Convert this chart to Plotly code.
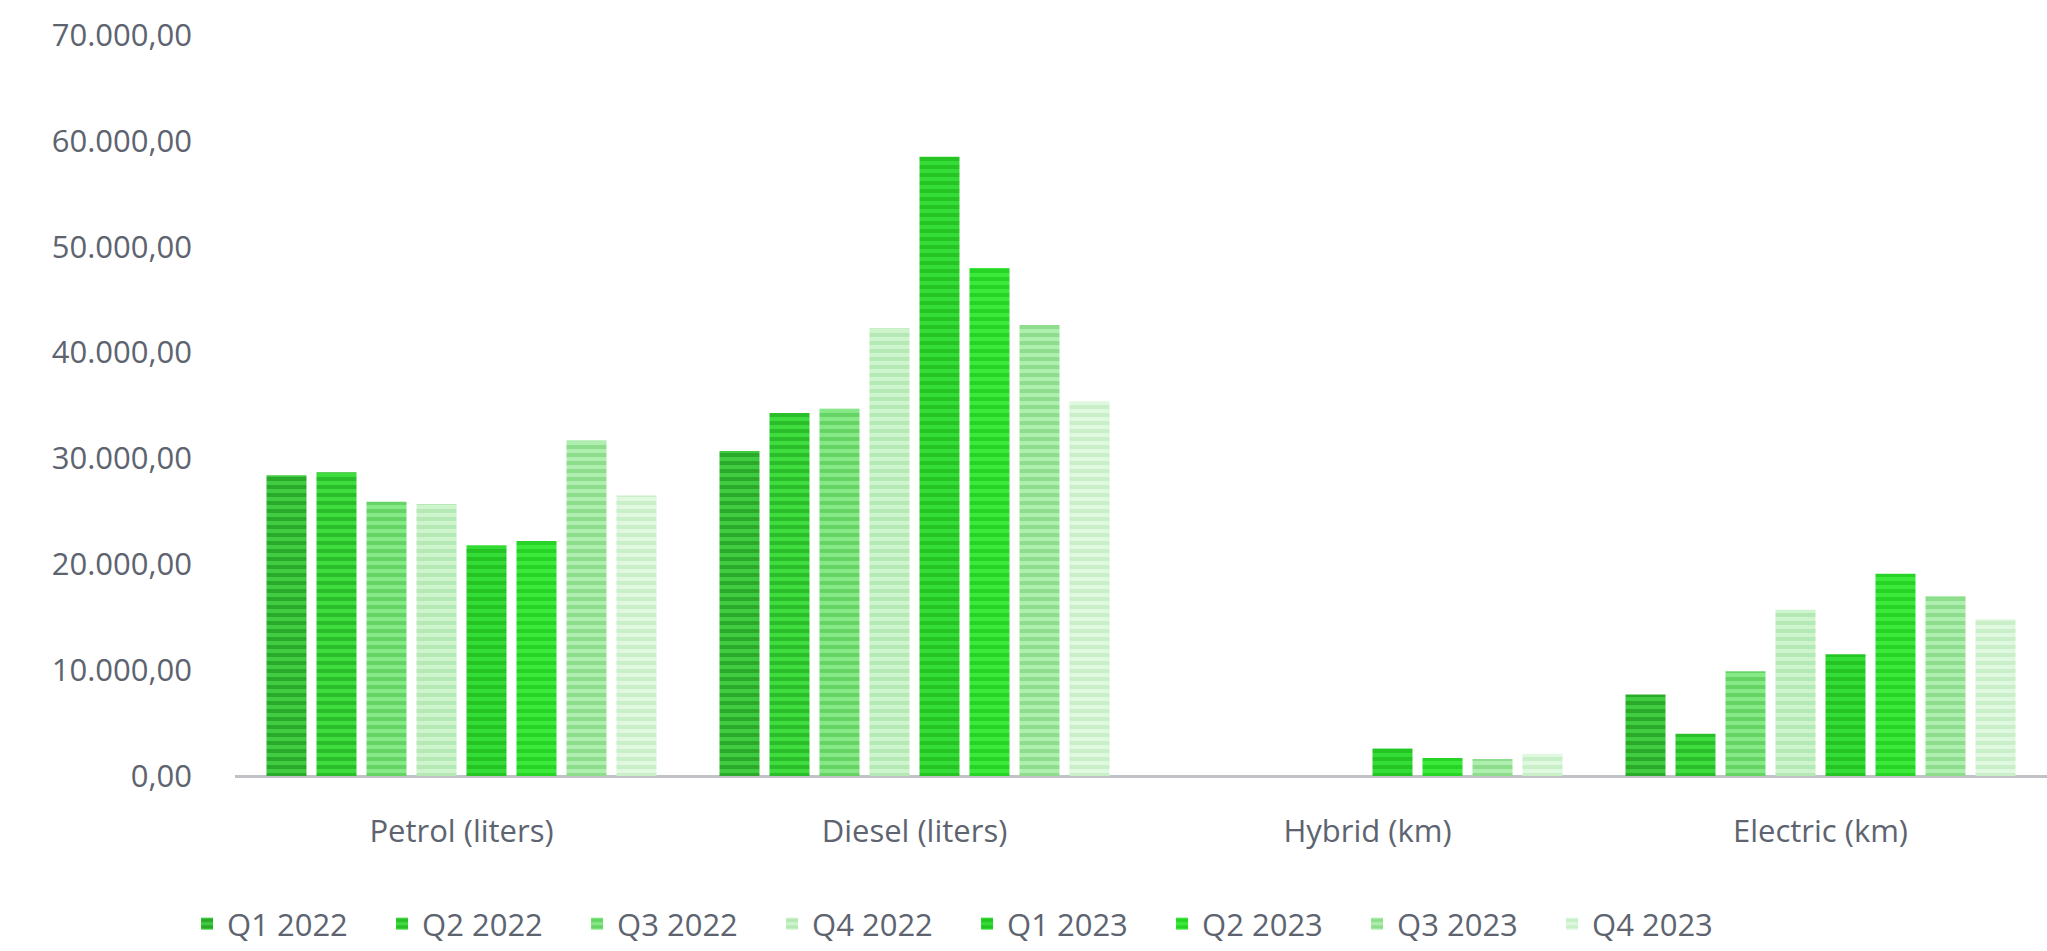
import plotly.graph_objects as go

categories = ["Petrol (liters)", "Diesel (liters)", "Hybrid (km)", "Electric (km)"]
series_names = ["Q1 2022", "Q2 2022", "Q3 2022", "Q4 2022",
                "Q1 2023", "Q2 2023", "Q3 2023", "Q4 2023"]

q1_2022 = [28400, 30700, 0, 7700]
q2_2022 = [28700, 34300, 0, 4000]
q3_2022 = [25900, 34700, 0, 9900]
q4_2022 = [25700, 42300, 0, 15700]
q1_2023 = [21800, 58500, 2600, 11500]
q2_2023 = [22200, 48000, 1700, 19100]
q3_2023 = [31700, 42600, 1600, 17000]
q4_2023 = [26500, 35400, 2100, 14800]

values = [q1_2022, q2_2022, q3_2022, q4_2022, q1_2023, q2_2023, q3_2023, q4_2023]

bg_colors = ["#40cc40", "#3fdc3f", "#86e886", "#cdf4cd",
             "#36dc36", "#3cea3c", "#aeeeae", "#dff8df"]
fg_colors = ["#148614", "#15a015", "#44c044", "#9cdc9c",
             "#10ac10", "#12bc12", "#6ccc6c", "#b2e6b2"]

fig = go.Figure()
for name, vals, bg, fg in zip(series_names, values, bg_colors, fg_colors):
    fig.add_trace(go.Bar(
        name=name, x=categories, y=vals,
        marker=dict(color=bg, line=dict(width=0),
                    pattern=dict(shape="-", fgcolor=fg, size=8, solidity=0.5,
                                 fillmode="overlay")),
    ))

text_color = "#5d6470"
fig.update_layout(
    width=2047, height=951,
    margin=dict(l=235, r=0, t=35, b=174),
    paper_bgcolor="white", plot_bgcolor="white",
    font=dict(family="Open Sans", size=31, color=text_color),
    separators=",.",
    barmode="group", bargap=0.117, bargroupgap=0.2,
    showlegend=True,
    legend=dict(orientation="h", x=0.404, xanchor="center", y=-0.2, yanchor="middle",
                font=dict(size=31, color=text_color), traceorder="normal",
                entrywidth=150, entrywidthmode="pixels", itemwidth=30),
    xaxis=dict(showline=False, ticks="", ticklabelstandoff=34,
               tickfont=dict(size=31, color=text_color)),
    yaxis=dict(range=[0, 70000], dtick=10000, tickformat=",.2f",
               showgrid=False, zeroline=True, zerolinecolor="#c0c2c8", zerolinewidth=3,
               showline=False, ticks="", ticklabelstandoff=42,
               tickfont=dict(size=31, color=text_color)),
)

fig.write_html("out.html")
